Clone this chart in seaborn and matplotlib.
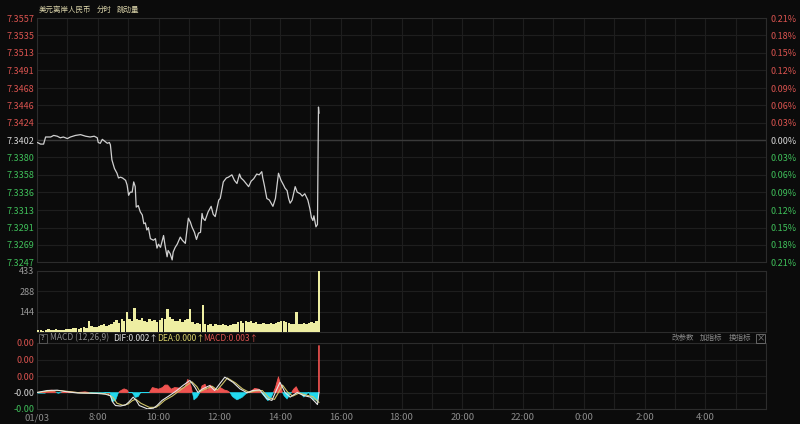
import numpy as np
import matplotlib
matplotlib.use('Agg')
import matplotlib.pyplot as plt
import seaborn as sns
from matplotlib.patches import Rectangle

# ---------------- data ----------------
# minutes after 06:00 (01/03)
price_time = [1, 7, 13, 17, 27, 33, 40, 46, 52, 60, 66, 76, 86, 96, 105, 113, 119, 121, 125, 129,
              135, 139, 143, 145, 148, 153, 158, 161, 165, 169, 175, 178, 181, 184, 188, 191, 194, 196, 200, 204,
              208, 211, 214, 217, 220, 224, 230, 234, 237, 240, 244, 250, 253, 257, 259, 263, 267, 269, 273, 277,
              283, 287, 293, 299, 303, 306, 311, 315, 319, 323, 326, 328, 332, 338, 344, 348, 352, 359, 362, 368,
              374, 378, 385, 390, 395, 400, 403, 408, 413, 418, 423, 428, 434, 439, 444, 446, 449, 454, 459, 466,
              471, 477, 482, 487, 490, 494, 497, 500, 504, 510, 514, 520, 524, 529, 535, 539, 542, 545, 547, 551,
              554, 555, 556, 557]
price_value = [7.3399, 7.3397, 7.3397, 7.3406, 7.3406, 7.3408, 7.3407, 7.3405, 7.3406, 7.3404, 7.3406, 7.3408,
               7.3409, 7.3407, 7.3406, 7.3407, 7.3405, 7.3399, 7.3398, 7.3403, 7.3400, 7.3398, 7.3399, 7.3396,
               7.3377, 7.3366, 7.3360, 7.3354, 7.3355, 7.3354, 7.3351, 7.3345, 7.3332, 7.3336, 7.3336, 7.3349,
               7.3343, 7.3317, 7.3319, 7.3311, 7.3307, 7.3296, 7.3297, 7.3288, 7.3291, 7.3277, 7.3275, 7.3277,
               7.3265, 7.3270, 7.3266, 7.3281, 7.3268, 7.3254, 7.3262, 7.3258, 7.3250, 7.3260, 7.3266, 7.3270,
               7.3279, 7.3275, 7.3271, 7.3303, 7.3298, 7.3292, 7.3285, 7.3276, 7.3284, 7.3285, 7.3309, 7.3303,
               7.3300, 7.3311, 7.3318, 7.3308, 7.3305, 7.3326, 7.3328, 7.3349, 7.3354, 7.3355, 7.3358, 7.3351,
               7.3347, 7.3359, 7.3354, 7.3351, 7.3347, 7.3343, 7.3350, 7.3353, 7.3359, 7.3358, 7.3362, 7.3354,
               7.3345, 7.3328, 7.3326, 7.3318, 7.3328, 7.3360, 7.3351, 7.3345, 7.3341, 7.3338, 7.3328, 7.3322,
               7.3326, 7.3343, 7.3336, 7.3334, 7.3331, 7.3334, 7.3326, 7.3315, 7.3304, 7.3300, 7.3306, 7.3292,
               7.3295, 7.3370, 7.3444, 7.3436]
prev_close = 7.3402
price_ticks = [7.3557, 7.3535, 7.3513, 7.3491, 7.3468, 7.3446, 7.3424, 7.3402,
               7.3380, 7.3358, 7.3336, 7.3313, 7.3291, 7.3269, 7.3247]
price_tick_labels = ['7.3557', '7.3535', '7.3513', '7.3491', '7.3468', '7.3446', '7.3424', '7.3402',
                     '7.3380', '7.3358', '7.3336', '7.3313', '7.3291', '7.3269', '7.3247']
pct_labels = ['0.21%', '0.18%', '0.15%', '0.12%', '0.09%', '0.06%', '0.03%', '0.00%',
              '0.03%', '0.06%', '0.09%', '0.12%', '0.15%', '0.18%', '0.21%']

vol_time = list(range(0, 560, 5))
vol_value = [12, 15, 10, 14, 18, 12, 15, 20, 14, 16, 12, 18,
             22, 18, 25, 30, 20, 26,
             35, 28, 75, 40, 32, 38,
             42, 48, 55, 45, 50, 60,
             70, 85, 65, 90, 75, 145,
             95, 80, 172, 90, 85, 100,
             80, 70, 90, 75, 85, 70,
             85, 100, 95, 165, 110, 90,
             80, 75, 90, 70, 85, 95,
             165, 70, 60, 65, 55, 193,
             60, 50, 55, 45, 58, 52,
             48, 55, 50, 45, 52, 60,
             55, 70, 80, 65, 75, 70,
             80, 65, 70, 60, 55, 65,
             60, 55, 65, 58, 62, 70,
             75, 80, 70, 65, 60, 55,
             145, 60, 55, 65, 58, 62,
             70, 65, 75, 433]
vol_ticks = [144, 288, 433]
vol_tick_labels = ['144', '288', '433']

dif_time = [0, 20, 40, 60, 80, 100, 120, 135, 145, 150, 155, 165, 175, 181, 190, 196, 202, 218, 230, 237,
            247, 262, 276, 288, 302, 312, 318, 327, 341, 351, 361, 371, 387, 401, 415, 426, 440, 454, 464, 474,
            480, 490, 500, 514, 526, 540, 550, 554, 557]
dif_value = [0.0, 0.00012, 0.00014, 0.00004, -0.00003, -0.00004, -0.00006, -0.0001, -0.0002, -0.0006,
             -0.00079, -0.00082, -0.00075, -0.00059, -0.00028, -0.00048, -0.00079, -0.00099, -0.00095, -0.00079,
             -0.00048, -0.00018, 0.00012, 0.00042, 0.00073, 0.00032, 0.0, 0.00022, 0.00042, 0.00012,
             0.00053, 0.00093, 0.00062, 0.00022, -0.00002, 0.00012, 0.00016, -0.00038, -0.00048, 0.00022,
             0.00062, 0.0, -0.00028, 0.0, -0.00018, -0.00028, -0.00059, -0.00073, 0.0]
dea_time = [0, 25, 45, 65, 85, 105, 125, 140, 150, 158, 170, 180, 188, 195, 205, 222, 235, 242, 252, 267,
            281, 293, 306, 316, 322, 332, 346, 356, 366, 376, 392, 406, 420, 431, 445, 458, 469, 479, 485, 495,
            505, 518, 531, 545, 553, 557]
dea_value = [0.0, 0.0001, 0.00012, 0.00005, -0.00002, -0.00004, -0.00005, -0.0001, -0.0003, -0.00065,
             -0.00078, -0.0007, -0.0005, -0.0004, -0.00065, -0.0009, -0.0009, -0.00075, -0.00048, -0.00022,
             0.0001, 0.00038, 0.00065, 0.00035, 0.00005, 0.0002, 0.00038, 0.00015, 0.0005, 0.00088,
             0.00058, 0.00022, 0.0, 0.0001, 0.00012, -0.00032, -0.00042, 0.0001, 0.00045, 0.00003,
             -0.00022, -0.00003, -0.00015, -0.00025, -0.0005, -0.0006]
hist_time = [0, 15, 20, 30, 38, 42, 48, 60, 70, 80, 95, 110, 125, 138,
             144, 148, 155, 161, 165, 172, 178, 181, 188, 194, 200, 205,
             222, 228, 240, 248, 253, 258, 265, 272, 285, 292, 298, 304, 307,
             310, 316, 322, 326, 332, 337, 342, 350, 356, 362, 370, 376, 381,
             386, 395, 405, 412, 416, 424, 430, 438, 443, 448, 456, 463, 467,
             471, 477, 483, 485, 488, 494, 500, 503, 507, 512, 516, 519,
             522, 527, 533, 536, 538, 545, 550, 554, 556, 556.6, 557, 557.4]
hist_value = [0.0, 0.0, 0.00012, 0.00014, 0.0, -0.00005, 0.0, 0.00005, 0.00003, 0.0, 0.00004, -0.00004, -0.00008, 0.0,
              0.0, -0.00055, -0.0005, 0.0, 0.0001, 0.00022, 0.00015, 0.0, 0.0, -0.0003, -0.00025, 0.0,
              0.0, 0.0003, 0.0002, 0.0003, 0.00045, 0.00045, 0.0002, 0.0003, 0.00025, 0.0003, 0.0008, 0.0004, 0.0,
              -0.00045, -0.0003, 0.0, 0.0004, 0.0005, 0.0001, 0.00045, 0.00025, 0.0001, 0.0003, 0.00015, 0.0001, 0.0,
              -0.00025, -0.00045, -0.0003, -0.0001, 0.0, 0.0001, 0.00025, 0.0002, 0.0, -0.0002, -0.0005, -0.0003, 0.0,
              0.0003, 0.00095, 0.0002, 0.0, -0.0002, -0.0004, -0.0001, 0.0, 0.0002, 0.00035, 0.0001, 0.0,
              -0.0001, -0.00028, -0.0001, 0.0, -0.0001, -0.0004, -0.00045, -0.00055, -0.0002, 0.0, 0.00285, 0.0]
macd_ticks = [0.003, 0.002, 0.001, 0.0, -0.001]
macd_tick_labels = ['0.00', '0.00', '0.00', '-0.00', '-0.00']

x_tick_pos = [0, 120, 240, 360, 480, 600, 720, 840, 960, 1080, 1200, 1320]
x_tick_labels = ['01/03', '8:00', '10:00', '12:00', '14:00', '16:00', '18:00', '20:00',
                 '22:00', '0:00', '2:00', '4:00']

# ---------------- style ----------------
BG = '#0b0b0b'
GRID = '#1e1e1e'
RED = '#d9534f'
GREEN = '#3fbf5a'
WHITE = '#d6d6d6'
GREY = '#8c8c8c'

sns.set_theme(style='dark', rc={'axes.facecolor': BG, 'figure.facecolor': BG})
plt.rcParams['font.family'] = ['Noto Sans CJK SC', 'DejaVu Sans']
plt.rcParams['axes.unicode_minus'] = False

W, H = 800, 424
fig = plt.figure(figsize=(W / 100, H / 100), dpi=100, facecolor=BG)


def rect(l, t, r, b):
    return [l / W, 1 - b / H, (r - l) / W, (b - t) / H]


def style_axes(ax):
    ax.set_facecolor(BG)
    ax.set_xlim(0, 1440)
    ax.set_xticks(range(0, 1441, 60))
    ax.grid(True, color=GRID, linewidth=0.8)
    ax.set_axisbelow(True)
    for s in ax.spines.values():
        s.set_color('#2c2c2c')
        s.set_linewidth(0.8)
    ax.tick_params(length=0)


def color_for(v, ref):
    if abs(v - ref) < 1e-9:
        return WHITE
    return RED if v > ref else GREEN


# ---- price panel ----
ax = fig.add_axes(rect(37, 18, 766, 262.3))
style_axes(ax)
ax.set_ylim(7.3247, 7.3557)
ax.set_yticks(price_ticks)
ax.set_yticklabels(price_tick_labels)
ax.tick_params(axis='y', labelsize=6.5, pad=2)
ax.tick_params(axis='x', labelbottom=False)
for lab, v in zip(ax.get_yticklabels(), price_ticks):
    lab.set_color(color_for(v, prev_close))
ax.axhline(prev_close, color='#3a3a3a', linewidth=1.0, zorder=1)
sns.lineplot(x=price_time, y=price_value, ax=ax, color='#d0d0d0', linewidth=0.9,
             estimator=None, sort=False, zorder=3)
ax.set_xlabel('')
ax.set_ylabel('')

ax2 = ax.twinx()
ax2.set_ylim(7.3247, 7.3557)
ax2.set_yticks(price_ticks)
ax2.set_yticklabels(pct_labels)
ax2.tick_params(axis='y', labelsize=6.5, pad=3, length=0)
ax2.grid(False)
for s in ax2.spines.values():
    s.set_visible(False)
for lab, v in zip(ax2.get_yticklabels(), price_ticks):
    lab.set_color(color_for(v, prev_close))

fig.text(39 / W, 1 - 10 / H, '美元离岸人民币', color='#d9d2a8', fontsize=5.4, va='center')
fig.text(97 / W, 1 - 10 / H, '分时', color='#d9d2a8', fontsize=5.4, va='center')
fig.text(117 / W, 1 - 10 / H, '跳动量', color='#d9d2a8', fontsize=5.4, va='center')

# ---- volume panel ----
axv = fig.add_axes(rect(37, 271, 766, 332))
style_axes(axv)
axv.bar(vol_time, vol_value, width=4.8, align='edge', color='#eeeea2', linewidth=0, zorder=3)
axv.set_ylim(0, 433)
axv.set_yticks(vol_ticks)
axv.set_yticklabels(vol_tick_labels)
axv.tick_params(axis='y', labelsize=6.5, pad=2, labelcolor='#9a9a9a')
axv.tick_params(axis='x', labelbottom=False)

# ---- MACD header ----
hy = 1 - 338 / H
fig.patches.append(Rectangle((39 / W, 1 - 343 / H), 8 / W, 9 / H, transform=fig.transFigure,
                             fill=False, edgecolor='#555555', linewidth=0.7))
fig.text(43 / W, hy, '?', color='#b0b0b0', fontsize=5.5, ha='center', va='center')
fig.text(50 / W, hy, 'MACD (12,26,9)', color='#8e8e8e', fontsize=6.1, va='center')
fig.text(113 / W, hy, 'DIF:0.002↑', color='#dcdcdc', fontsize=6.1, va='center')
fig.text(157 / W, hy, 'DEA:0.000↑', color='#d8cf6a', fontsize=6.1, va='center')
fig.text(203 / W, hy, 'MACD:0.003↑', color='#d9534f', fontsize=6.1, va='center')
fig.text(672 / W, hy, '改参数', color='#8a8a8a', fontsize=5.4, va='center')
fig.text(700 / W, hy, '加指标', color='#8a8a8a', fontsize=5.4, va='center')
fig.text(729 / W, hy, '换指标', color='#8a8a8a', fontsize=5.4, va='center')
fig.patches.append(Rectangle((756 / W, 1 - 343 / H), 9 / W, 9 / H, transform=fig.transFigure,
                             fill=False, edgecolor='#666666', linewidth=0.7))
fig.text(760.5 / W, hy, '×', color='#8a8a8a', fontsize=6, ha='center', va='center')

# ---- MACD panel ----
axm = fig.add_axes(rect(37, 343, 766, 409))
style_axes(axm)
axm.set_ylim(-0.001, 0.003)
axm.set_yticks(macd_ticks)
axm.set_yticklabels(macd_tick_labels)
axm.tick_params(axis='y', labelsize=6.5, pad=2)
for lab, v in zip(axm.get_yticklabels(), macd_ticks):
    lab.set_color(color_for(v, 0.0))
ht = np.array(hist_time, dtype=float)
hv = np.array(hist_value)
axm.fill_between(ht, hv, 0, where=hv >= 0, interpolate=True, color='#ef5350',
                 edgecolor='#ef5350', linewidth=0.6, zorder=3)
axm.fill_between(ht, hv, 0, where=hv <= 0, interpolate=True, color='#22d8ee',
                 edgecolor='#22d8ee', linewidth=0.4, zorder=3)
sns.lineplot(x=dea_time, y=dea_value, ax=axm, color='#cfc46a', linewidth=0.8,
             estimator=None, sort=False, zorder=4)
sns.lineplot(x=dif_time, y=dif_value, ax=axm, color='#e6e6e6', linewidth=0.8,
             estimator=None, sort=False, zorder=5)
axm.set_xlabel('')
axm.set_ylabel('')
axm.set_xticks(range(0, 1441, 60), minor=False)
axm.set_xticklabels(['' for _ in range(25)])
for p, lab in zip(x_tick_pos, x_tick_labels):
    axm.text(p, -0.00125, lab, color=GREY, fontsize=6.8, ha='center', va='top',
             transform=axm.transData, clip_on=False)

fig.savefig('out.png', dpi=100, facecolor=BG)
